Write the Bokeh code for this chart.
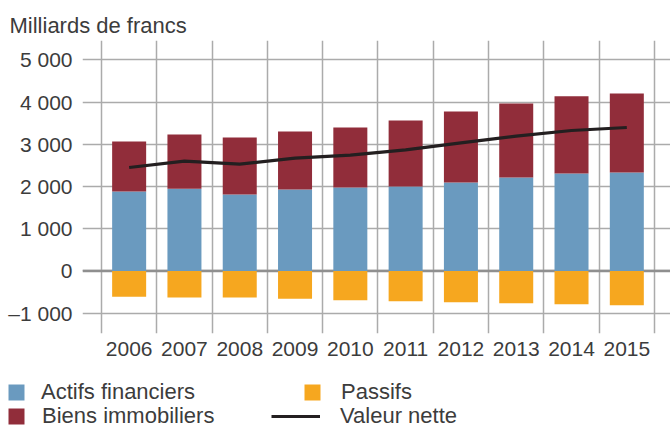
from bokeh.plotting import figure
from bokeh.layouts import column
from bokeh.models import Range1d, FixedTicker, Span, Legend, LegendItem, ColumnDataSource
from bokeh.embed import file_html
from bokeh.resources import INLINE

# ---- data (milliards de francs) ----
years = ["2006", "2007", "2008", "2009", "2010", "2011", "2012", "2013", "2014", "2015"]
actifs_financiers = [1880, 1950, 1810, 1930, 1975, 2000, 2095, 2215, 2310, 2330]
biens_immobiliers = [1185, 1280, 1350, 1375, 1420, 1565, 1680, 1750, 1825, 1875]
passifs = [-607, -630, -630, -655, -695, -718, -742, -765, -790, -813]
valeur_nette = [2451, 2600, 2529, 2671, 2742, 2870, 3035, 3192, 3327, 3398]
y_ticks = [-1000, 0, 1000, 2000, 3000, 4000, 5000]
y_tick_labels = ["\u20131 000", "0", "1 000", "2 000", "3 000", "4 000", "5 000"]
title_text = "Milliards de francs"
legend_labels = ["Actifs financiers", "Biens immobiliers", "Passifs", "Valeur nette"]

FONT = "Liberation Sans"
TXT = "#3c3c3c"
BLUE = "#6a9abf"
RED = "#912d3a"
ORANGE = "#f6a71f"
LINE = "#231f20"
GRID = "#ababab"

idx = list(range(len(years)))
src = ColumnDataSource(dict(x=idx, actifs=actifs_financiers, immo=biens_immobiliers,
                            passifs=passifs, net=valeur_nette))

p = figure(width=670, height=372, output_backend="svg", toolbar_location=None,
           x_range=Range1d(-0.8436, 9.79), y_range=Range1d(-1480, 5458),
           min_border_left=82, min_border_right=0, min_border_top=40, min_border_bottom=39)
p.frame_align = False
p.outline_line_color = None
p.background_fill_color = "white"

# title
p.title.text = title_text
p.title.align = "left"
p.title.offset = -73
p.title.standoff = 6
p.title.text_font = FONT
p.title.text_font_size = "22px"
p.title.text_font_style = "normal"
p.title.text_color = TXT

# axes
p.yaxis.ticker = FixedTicker(ticks=y_ticks)
p.yaxis.major_label_overrides = {t: l for t, l in zip(y_ticks, y_tick_labels)}
p.xaxis.ticker = FixedTicker(ticks=idx)
p.xaxis.major_label_overrides = {i: y for i, y in zip(idx, years)}
for ax in (p.xaxis, p.yaxis):
    ax.axis_line_color = None
    ax.major_tick_line_color = None
    ax.minor_tick_line_color = None
    ax.major_tick_out = 0
    ax.major_tick_in = 0
    ax.major_label_text_font = FONT
    ax.major_label_text_font_size = "21px"
    ax.major_label_text_color = TXT
p.yaxis.major_label_standoff = 10
p.xaxis.major_label_standoff = 8

# grids
p.xgrid.ticker = FixedTicker(ticks=[i - 0.5 for i in range(len(years) + 1)])
for g in (p.xgrid, p.ygrid):
    g.grid_line_color = GRID
    g.grid_line_width = 1.5
p.add_layout(Span(location=0, dimension="width", line_color="#8f8f8f", line_width=2.5, level="underlay"))

# bars and line
p.vbar_stack(["actifs", "immo"], x="x", width=0.615, source=src,
             color=[BLUE, RED], line_color=None)
p.vbar(x="x", top=0, bottom="passifs", width=0.615, source=src,
       fill_color=ORANGE, line_color=None)
p.line(x="x", y="net", source=src, line_color=LINE, line_width=3.2)

# ---- legend strip below the chart ----
lf = figure(width=670, height=57, output_backend="svg", toolbar_location=None,
            x_range=Range1d(0, 1), y_range=Range1d(0, 1),
            x_axis_location=None, y_axis_location=None,
            min_border_left=0, min_border_right=0, min_border_top=0, min_border_bottom=0)
lf.frame_align = False
lf.grid.visible = False
lf.outline_line_color = None

# hidden copies of the series, used only as legend swatches
g_blue = lf.vbar(x="x", top="actifs", width=0.615, source=src, fill_color=BLUE, line_color=None, visible=False)
g_red = lf.vbar(x="x", top="immo", width=0.615, source=src, fill_color=RED, line_color=None, visible=False)
g_orange = lf.vbar(x="x", top="passifs", width=0.615, source=src, fill_color=ORANGE, line_color=None, visible=False)
g_line = lf.line(x="x", y="net", source=src, line_color=LINE, line_width=3.2, visible=False)


def mk_legend(label, renderer, x, y, gw, gh, standoff):
    lg = Legend(items=[LegendItem(label=label, renderers=[renderer])],
                location=(x, y), orientation="vertical",
                glyph_width=gw, glyph_height=gh, label_standoff=standoff,
                label_height=24, label_width=10, padding=0, margin=0, spacing=0,
                border_line_color=None, background_fill_alpha=0,
                inactive_fill_alpha=0,
                label_text_font=FONT, label_text_font_size="22px",
                label_text_color=TXT)
    lf.add_layout(lg, "center")
    return lg


mk_legend(legend_labels[0], g_blue, 6, 24.5, 20, 20, 15)
mk_legend(legend_labels[1], g_red, 6, 0.5, 20, 20, 16)
mk_legend(legend_labels[2], g_orange, 302, 24.5, 20, 20, 19)
mk_legend(legend_labels[3], g_line, 271, 0.5, 49, 20, 20)

open("out.html", "w").write(file_html(column(p, lf, spacing=0), INLINE))
